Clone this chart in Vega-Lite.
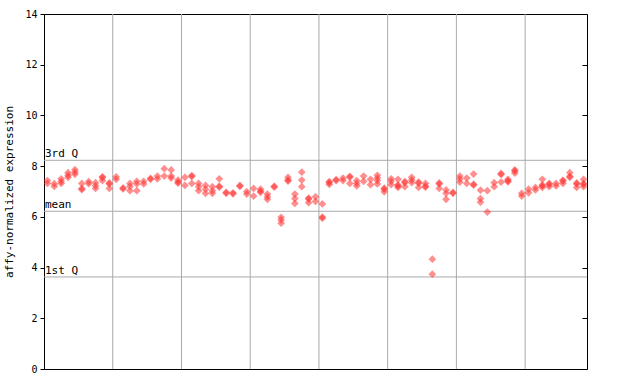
{
  "$schema": "https://vega.github.io/schema/vega-lite/v6.json",
  "autosize": "none",
  "width": 543,
  "height": 355,
  "padding": {"left": 44, "top": 14, "right": 53, "bottom": 15},
  "config": {
    "view": {"stroke": "black", "strokeWidth": 1},
    "font": "DejaVu Sans Mono"
  },
  "datasets": {
    "pts": [
      {"i":0,"v":7.43},{"i":0,"v":7.32},
      {"i":1,"v":7.31},{"i":1,"v":7.20},
      {"i":2,"v":7.50},{"i":2,"v":7.40},{"i":2,"v":7.32},
      {"i":3,"v":7.74},{"i":3,"v":7.64},{"i":3,"v":7.56},
      {"i":4,"v":7.86},{"i":4,"v":7.76},{"i":4,"v":7.68},
      {"i":5,"v":7.32},{"i":5,"v":7.12},{"i":5,"v":7.07},
      {"i":6,"v":7.39},{"i":6,"v":7.31},
      {"i":7,"v":7.35},{"i":7,"v":7.23},{"i":7,"v":7.12},
      {"i":8,"v":7.58},{"i":8,"v":7.55},{"i":8,"v":7.43},
      {"i":9,"v":7.34},{"i":9,"v":7.30},{"i":9,"v":7.12},
      {"i":10,"v":7.58},{"i":10,"v":7.48},
      {"i":11,"v":7.14},{"i":11,"v":7.10},
      {"i":12,"v":7.32},{"i":12,"v":7.20},{"i":12,"v":7.03},
      {"i":13,"v":7.40},{"i":13,"v":7.30},{"i":13,"v":7.03},
      {"i":14,"v":7.40},{"i":14,"v":7.30},
      {"i":15,"v":7.52},{"i":15,"v":7.48},
      {"i":16,"v":7.61},{"i":16,"v":7.50},
      {"i":17,"v":7.90},{"i":17,"v":7.61},
      {"i":18,"v":7.85},{"i":18,"v":7.61},{"i":18,"v":7.53},
      {"i":19,"v":7.45},{"i":19,"v":7.37},{"i":19,"v":7.33},
      {"i":20,"v":7.56},{"i":20,"v":7.24},
      {"i":21,"v":7.63},{"i":21,"v":7.59},{"i":21,"v":7.32},
      {"i":22,"v":7.32},{"i":22,"v":7.19},{"i":22,"v":7.03},
      {"i":23,"v":7.24},{"i":23,"v":7.09},{"i":23,"v":6.93},
      {"i":24,"v":7.19},{"i":24,"v":7.03},{"i":24,"v":6.93},
      {"i":25,"v":7.50},{"i":25,"v":7.21},{"i":25,"v":7.17},
      {"i":26,"v":6.97},{"i":26,"v":6.93},
      {"i":27,"v":6.95},{"i":27,"v":6.91},
      {"i":28,"v":7.24},{"i":28,"v":7.20},
      {"i":29,"v":7.00},{"i":29,"v":6.90},
      {"i":30,"v":7.12},{"i":30,"v":6.82},
      {"i":31,"v":7.09},{"i":31,"v":7.01},{"i":31,"v":6.97},
      {"i":32,"v":6.90},{"i":32,"v":6.79},{"i":32,"v":6.69},
      {"i":33,"v":7.21},{"i":33,"v":7.17},
      {"i":34,"v":5.98},{"i":34,"v":5.88},{"i":34,"v":5.75},
      {"i":35,"v":7.56},{"i":35,"v":7.45},{"i":35,"v":7.41},
      {"i":36,"v":6.90},{"i":36,"v":6.72},{"i":36,"v":6.53},
      {"i":37,"v":7.76},{"i":37,"v":7.45},{"i":37,"v":7.19},
      {"i":38,"v":6.74},{"i":38,"v":6.70},{"i":38,"v":6.56},
      {"i":39,"v":6.79},{"i":39,"v":6.61},
      {"i":40,"v":6.51},{"i":40,"v":5.99},{"i":40,"v":5.95},
      {"i":41,"v":7.39},{"i":41,"v":7.35},{"i":41,"v":7.28},
      {"i":42,"v":7.47},{"i":42,"v":7.43},
      {"i":43,"v":7.53},{"i":43,"v":7.43},
      {"i":44,"v":7.60},{"i":44,"v":7.56},{"i":44,"v":7.32},
      {"i":45,"v":7.43},{"i":45,"v":7.32},{"i":45,"v":7.22},
      {"i":46,"v":7.61},{"i":46,"v":7.40},
      {"i":47,"v":7.48},{"i":47,"v":7.27},
      {"i":48,"v":7.64},{"i":48,"v":7.53},{"i":48,"v":7.43},{"i":48,"v":7.30},
      {"i":49,"v":7.13},{"i":49,"v":7.09},{"i":49,"v":6.99},
      {"i":50,"v":7.50},{"i":50,"v":7.40},{"i":50,"v":7.27},
      {"i":51,"v":7.48},{"i":51,"v":7.26},{"i":51,"v":7.22},{"i":51,"v":7.16},
      {"i":52,"v":7.39},{"i":52,"v":7.35},{"i":52,"v":7.19},
      {"i":53,"v":7.56},{"i":53,"v":7.45},{"i":53,"v":7.35},
      {"i":54,"v":7.37},{"i":54,"v":7.33},{"i":54,"v":7.16},
      {"i":55,"v":7.32},{"i":55,"v":7.21},{"i":55,"v":7.17},
      {"i":56,"v":4.33},{"i":56,"v":3.74},
      {"i":57,"v":7.34},{"i":57,"v":7.30},{"i":57,"v":7.12},
      {"i":58,"v":7.06},{"i":58,"v":6.93},{"i":58,"v":6.69},
      {"i":59,"v":6.97},{"i":59,"v":6.93},
      {"i":60,"v":7.61},{"i":60,"v":7.50},{"i":60,"v":7.37},
      {"i":61,"v":7.53},{"i":61,"v":7.32},
      {"i":62,"v":7.69},{"i":62,"v":7.29},{"i":62,"v":7.25},
      {"i":63,"v":7.05},{"i":63,"v":6.72},{"i":63,"v":6.58},
      {"i":64,"v":7.03},{"i":64,"v":6.19},
      {"i":65,"v":7.35},{"i":65,"v":7.19},
      {"i":66,"v":7.71},{"i":66,"v":7.67},{"i":66,"v":7.37},
      {"i":67,"v":7.48},{"i":67,"v":7.42},{"i":67,"v":7.38},
      {"i":68,"v":7.85},{"i":68,"v":7.81},{"i":68,"v":7.72},
      {"i":69,"v":6.93},{"i":69,"v":6.82},
      {"i":70,"v":7.09},{"i":70,"v":6.95},
      {"i":71,"v":7.16},{"i":71,"v":7.06},
      {"i":72,"v":7.48},{"i":72,"v":7.26},{"i":72,"v":7.22},{"i":72,"v":7.16},
      {"i":73,"v":7.32},{"i":73,"v":7.28},{"i":73,"v":7.19},
      {"i":74,"v":7.32},{"i":74,"v":7.22},
      {"i":75,"v":7.45},{"i":75,"v":7.41},{"i":75,"v":7.32},
      {"i":76,"v":7.74},{"i":76,"v":7.60},{"i":76,"v":7.56},
      {"i":77,"v":7.34},{"i":77,"v":7.30},{"i":77,"v":7.16},
      {"i":78,"v":7.48},{"i":78,"v":7.32},{"i":78,"v":7.28},{"i":78,"v":7.19}
    ],
    "vlines": [{"x":9.5},{"x":19.5},{"x":29.5},{"x":39.5},{"x":49.5},{"x":59.5},{"x":69.5}],
    "hlines": [
      {"y":8.23,"label":"3rd Q"},
      {"y":6.22,"label":"mean"},
      {"y":3.63,"label":"1st Q"}
    ]
  },
  "layer": [
    {
      "data": {"name": "vlines"},
      "mark": {"type": "rule", "color": "#aaaaaa", "strokeWidth": 1},
      "encoding": {
        "x": {"field": "x", "type": "quantitative", "scale": {"domain": [-0.5, 78.5], "nice": false, "zero": false}, "axis": {"labels": false, "ticks": false, "title": null, "grid": false, "domainColor": "black"}}
      }
    },
    {
      "data": {"name": "hlines"},
      "mark": {"type": "rule", "color": "#aaaaaa", "strokeWidth": 1},
      "encoding": {
        "y": {"field": "y", "type": "quantitative", "scale": {"domain": [0, 14], "nice": false}, "axis": {"orient": "right", "labels": false, "tickSize": -5, "tickColor": "black", "domain": false, "grid": false, "title": null, "values": [0,2,4,6,8,10,12,14]}}
      }
    },
    {
      "data": {"name": "hlines"},
      "mark": {"type": "text", "align": "left", "baseline": "bottom", "dx": 1, "dy": -1, "fontSize": 11, "font": "DejaVu Sans Mono", "color": "black"},
      "encoding": {
        "x": {"datum": -0.5, "type": "quantitative", "axis": null},
        "y": {"field": "y", "type": "quantitative", "axis": null},
        "text": {"field": "label"}
      }
    },
    {
      "data": {"name": "pts"},
      "mark": {"type": "point", "shape": "diamond", "filled": true, "size": 60, "color": "#ff3333", "opacity": 0.55},
      "encoding": {
        "x": {"field": "i", "type": "quantitative"},
        "y": {"field": "v", "type": "quantitative", "axis": {"orient": "left", "values": [0,2,4,6,8,10,12,14], "grid": false, "domainColor": "black", "tickColor": "black", "tickSize": 4, "labelPadding": 3, "labelFont": "DejaVu Sans Mono", "labelFontSize": 10, "labelColor": "black", "title": "affy-normalized expression", "titleFont": "DejaVu Sans Mono", "titleFontSize": 11, "titleFontWeight": "normal", "titleColor": "black", "titlePadding": 10}}
      }
    }
  ],
  "resolve": {"axis": {"y": "independent"}}
}
